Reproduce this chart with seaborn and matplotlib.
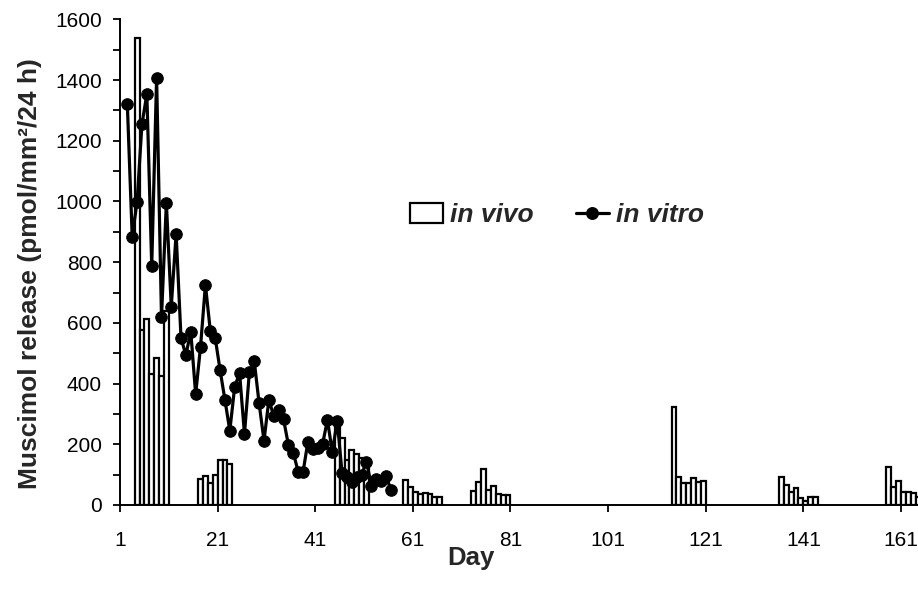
import matplotlib
matplotlib.use("Agg")
import matplotlib.pyplot as plt
from matplotlib.patches import Patch
from matplotlib.lines import Line2D
from matplotlib.ticker import MultipleLocator
import seaborn as sns
import pandas as pd

# ---- data ----
vivo_days = [4, 5, 6, 7, 8, 9, 10,
             17, 18, 19, 20, 21, 22, 23,
             45, 46, 47, 48, 49, 50, 51,
             59, 60, 61, 62, 63, 64, 65, 66,
             73, 74, 75, 76, 77, 78, 79, 80,
             114, 115, 116, 117, 118, 119, 120,
             136, 137, 138, 139, 140, 141, 142, 143,
             158, 159, 160, 161, 162, 163, 164]
vivo_vals = [1540, 577, 613, 432, 485, 425, 640,
             85, 96, 72, 100, 147, 149, 135,
             278, 222, 148, 180, 167, 155, 142,
             82, 60, 42, 37, 38, 37, 25, 25,
             47, 77, 120, 50, 62, 35, 33, 32,
             322, 91, 72, 72, 88, 77, 79,
             93, 66, 42, 55, 22, 12, 28, 28,
             126, 60, 79, 44, 44, 40, 28]

vitro_days = list(range(2, 57))
vitro_vals = [1321, 884, 999, 1255, 1354, 787, 1408, 618, 996, 653,
              894, 550, 494, 571, 365, 522, 725, 574, 551, 445,
              346, 245, 390, 434, 234, 437, 475, 335, 212, 346,
              294, 313, 283, 198, 172, 110, 108, 209, 183, 187,
              201, 280, 174, 278, 104, 91, 77, 93, 99, 143,
              63, 85, 80, 97, 49]

tick_labels = ["1", "21", "41", "61", "81", "101", "121", "141", "161"]
y_label = "Muscimol release (pmol/mm\u00b2/24 h)"
x_label = "Day"
series_names = ["in vivo", "in vitro"]

# ---- style ----
sns.set_style("ticks")
plt.rcParams["font.family"] = ["Liberation Sans", "DejaVu Sans"]

fig = plt.figure(figsize=(9.18, 5.9), dpi=100)
ax = fig.add_axes([120 / 918, 85 / 590, 800 / 918, 485.6 / 590])

vivo_df = pd.DataFrame({"day": vivo_days, "val": vivo_vals})
vitro_df = pd.DataFrame({"day": vitro_days, "val": vitro_vals})

sns.barplot(data=vivo_df, x="day", y="val", native_scale=True, width=1.0,
            color="white", saturation=1, edgecolor="black", linewidth=1.6,
            errorbar=None, ax=ax, zorder=2)
sns.lineplot(data=vitro_df, x="day", y="val", color="black", linewidth=2.3,
             marker="o", markersize=8.3, markeredgecolor="black",
             markerfacecolor="black", ax=ax, zorder=3)

ax.set_xlim(0.5, 164.4)
ax.set_ylim(0, 1600)
ax.set_xticks([int(t) - 0.5 for t in tick_labels])
ax.set_xticklabels(tick_labels)
ax.yaxis.set_major_locator(MultipleLocator(200))
ax.yaxis.set_minor_locator(MultipleLocator(100))

for s in ["top", "right"]:
    ax.spines[s].set_visible(False)
for s in ["left", "bottom"]:
    ax.spines[s].set_color("black")
    ax.spines[s].set_linewidth(1.4)

ax.tick_params(axis="both", which="both", direction="out", length=5,
               width=1.3, color="black", labelsize=15, labelcolor="black")
ax.tick_params(axis="x", pad=14)
ax.tick_params(axis="y", pad=8)

ax.set_xlabel(x_label, fontsize=18.5, fontweight="bold")
ax.set_ylabel(y_label, fontsize=19, fontweight="bold")
ax.xaxis.set_label_coords(0.4386, -0.085)
ax.yaxis.set_label_coords(-0.097, 0.476)

handles = [Patch(facecolor="white", edgecolor="black", linewidth=1.6),
           Line2D([], [], color="black", linewidth=2.3, marker="o",
                  markersize=8.3)]
ax.legend(handles, series_names, ncol=2, frameon=False, loc="center",
          bbox_to_anchor=(0.546, 0.597),
          prop={"size": 19, "weight": "bold", "style": "italic"},
          handlelength=1.25, handleheight=0.76, handletextpad=0.27,
          columnspacing=1.6)

fig.savefig("out.png", dpi=100)
